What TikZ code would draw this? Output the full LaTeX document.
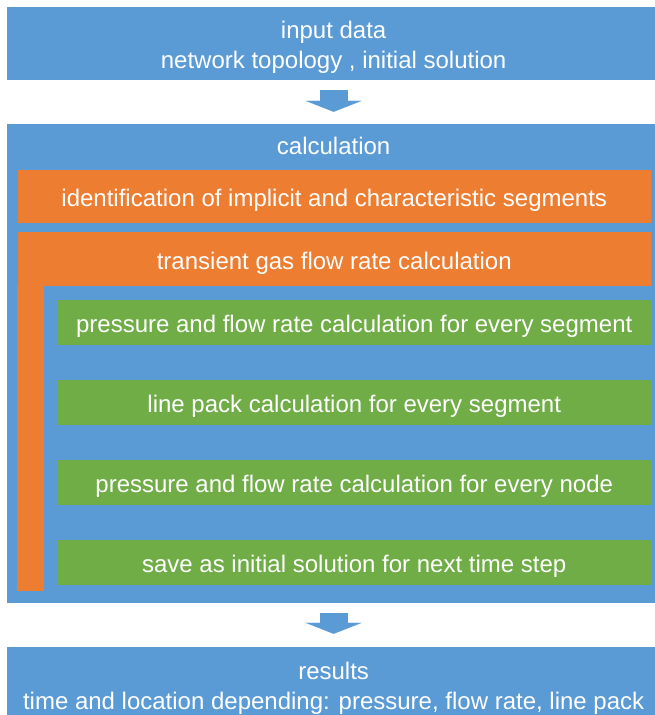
\documentclass[tikz,border=0pt]{standalone}
\usepackage{fontspec}
\setmainfont{Liberation Sans}
\usepackage{tikz}
\usetikzlibrary{positioning,arrows.meta}
\definecolor{flowblue}{HTML}{5B9BD5}
\definecolor{floworange}{HTML}{ED7D31}
\definecolor{flowgreen}{HTML}{70AD47}

\begin{document}
\begin{tikzpicture}[x=1pt, y=-1pt,
        every node/.style={font=\fontsize{24}{30}\selectfont, text=white, align=center},
        boxtext/.style={inner sep=0pt, execute at begin node=\rule{0pt}{#1}},
        boxtext/.default=25pt,
        bluebox/.style={rectangle, fill=flowblue, minimum width=652.7pt, boxtext=55pt},
        orangebox/.style={rectangle, fill=floworange, minimum width=633.5pt, boxtext},
        greenbox/.style={rectangle, fill=flowgreen, minimum width=593.5pt, minimum height=45pt, boxtext},
        title/.style={inner sep=0pt},
        blockarrow/.style={draw=flowblue, line width=28pt, -{Triangle[width=56pt, length=11pt, line width=0.01pt]}},
      ]
      \useasboundingbox (0,0) rectangle (654,715);
      \node [bluebox, minimum height=73.3pt] (input) at (333.65,43.35) {input data\\network topology , initial solution};
      \node [bluebox, minimum height=479pt, boxtext=0pt] (calc) at (333.65,363.5) {};
      \node [bluebox, minimum height=74pt] (results) at (333.65,684) {results\\time and location depending: pressure, flow rate, line pack};
      \node [title, below=13pt of calc.north] (calctitle) {calculation};
      \node [orangebox, minimum height=53pt] (segid) at (334.25,196.5) {identification of implicit and characteristic segments};
      \node [orangebox, minimum height=54pt] (flowcalc) at (334.25,259) {transient gas flow rate calculation};
      % left leg of the flow rate frame
      \fill [floworange] (flowcalc.south west) rectangle ++(27.1,305);
      \node [greenbox] (segcalc) at (354.25,322.5) {pressure and flow rate calculation for every segment};
      \node [greenbox, below=34.5pt of segcalc] (linepack) {line pack calculation for every segment};
      \node [greenbox, below=34.5pt of linepack] (nodecalc) {pressure and flow rate calculation for every node};
      \node [greenbox, below=34.5pt of nodecalc] (save) {save as initial solution for next time step};
      \draw [blockarrow, shorten <=10pt, shorten >=12pt] (input) -- (calc);
      \draw [blockarrow, shorten <=10pt, shorten >=13pt] (calc) -- (results);
    \end{tikzpicture}
\end{document}
